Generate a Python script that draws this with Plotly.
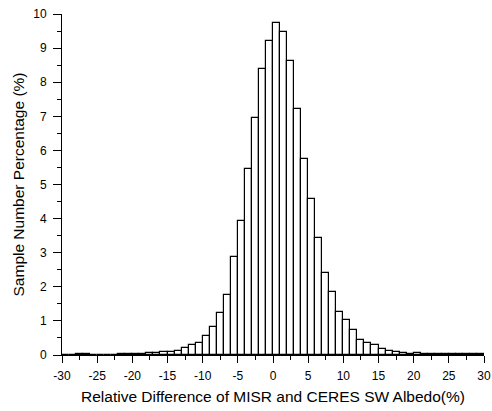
import plotly.graph_objects as go

bin_left = list(range(-30, 30))
percent = [
    0, 0, 0.02, 0.02, 0, 0, 0, 0,            # -30 .. -23
    0.03, 0.03, 0.04, 0.04, 0.05, 0.07, 0.09, 0.10,  # -22 .. -15
    0.13, 0.20, 0.29, 0.35, 0.56, 0.83, 1.24, 1.76,  # -14 .. -7
    2.87, 3.94, 5.46, 6.94, 8.38, 9.21,              # -6 .. -1
    9.74, 9.48, 8.61, 7.22, 5.75, 4.57, 3.44, 2.41,  # 0 .. 7
    1.84, 1.27, 1.02, 0.73, 0.45, 0.36, 0.30, 0.19,  # 8 .. 15
    0.13, 0.09, 0.07, 0.04, 0.05, 0.04, 0.03, 0.03,  # 16 .. 23
    0.02, 0.02, 0.02, 0.02, 0.02, 0.02,              # 24 .. 29
]

x_tickvals = [-30, -25, -20, -15, -10, -5, 0, 5, 10, 15, 20, 25, 30]
x_ticktext = ["-30", "-25", "-20", "-15", "-10", "-5", "0", "5", "10", "15", "20", "25", "30"]
y_tickvals = [0, 1, 2, 3, 4, 5, 6, 7, 8, 9, 10]
y_ticktext = ["0", "1", "2", "3", "4", "5", "6", "7", "8", "9", "10"]

x_title = "Relative Difference of MISR and CERES SW Albedo(%)"
y_title = "Sample Number Percentage (%)"

fig = go.Figure(go.Bar(
    x=bin_left, y=percent, width=1, offset=0,
    marker=dict(color="white", line=dict(color="black", width=1.2)),
))

font = dict(family="Liberation Sans, Arial, sans-serif", color="black")
fig.update_layout(
    width=492, height=411,
    margin=dict(l=62, r=8, t=14, b=56),
    plot_bgcolor="white", paper_bgcolor="white",
    showlegend=False, bargap=0,
    font=font,
)
fig.update_xaxes(
    range=[-30, 30], tickmode="array", tickvals=x_tickvals, ticktext=x_ticktext,
    ticks="outside", ticklen=7, tickwidth=1, tickcolor="black",
    minor=dict(dtick=2.5, tick0=-30, ticks="outside", ticklen=4, tickcolor="black"),
    showline=True, linecolor="black", linewidth=1, showgrid=False, zeroline=False,
    automargin=False, ticklabelstandoff=3, ticklabeloverflow="allow",
    tickfont=dict(size=12), title=dict(text=x_title, font=dict(size=15.5), standoff=8),
)
fig.update_yaxes(
    range=[0, 10], tickmode="array", tickvals=y_tickvals, ticktext=y_ticktext,
    ticks="outside", ticklen=8, tickwidth=1, tickcolor="black",
    minor=dict(dtick=0.5, tick0=0, ticks="outside", ticklen=4, tickcolor="black"),
    showline=True, linecolor="black", linewidth=1, showgrid=False, zeroline=False,
    automargin=False, ticklabelstandoff=4, ticklabeloverflow="allow",
    tickfont=dict(size=12), title=dict(text=y_title, font=dict(size=15.5), standoff=4),
)

# remove the default 8px page margin and any scrollbars so the figure fills the window
post = ("document.body.style.margin='0';"
        "document.body.style.overflow='hidden';"
        "document.documentElement.style.overflow='hidden';")
fig.write_html("out.html", post_script=post, config={"displayModeBar": False})
